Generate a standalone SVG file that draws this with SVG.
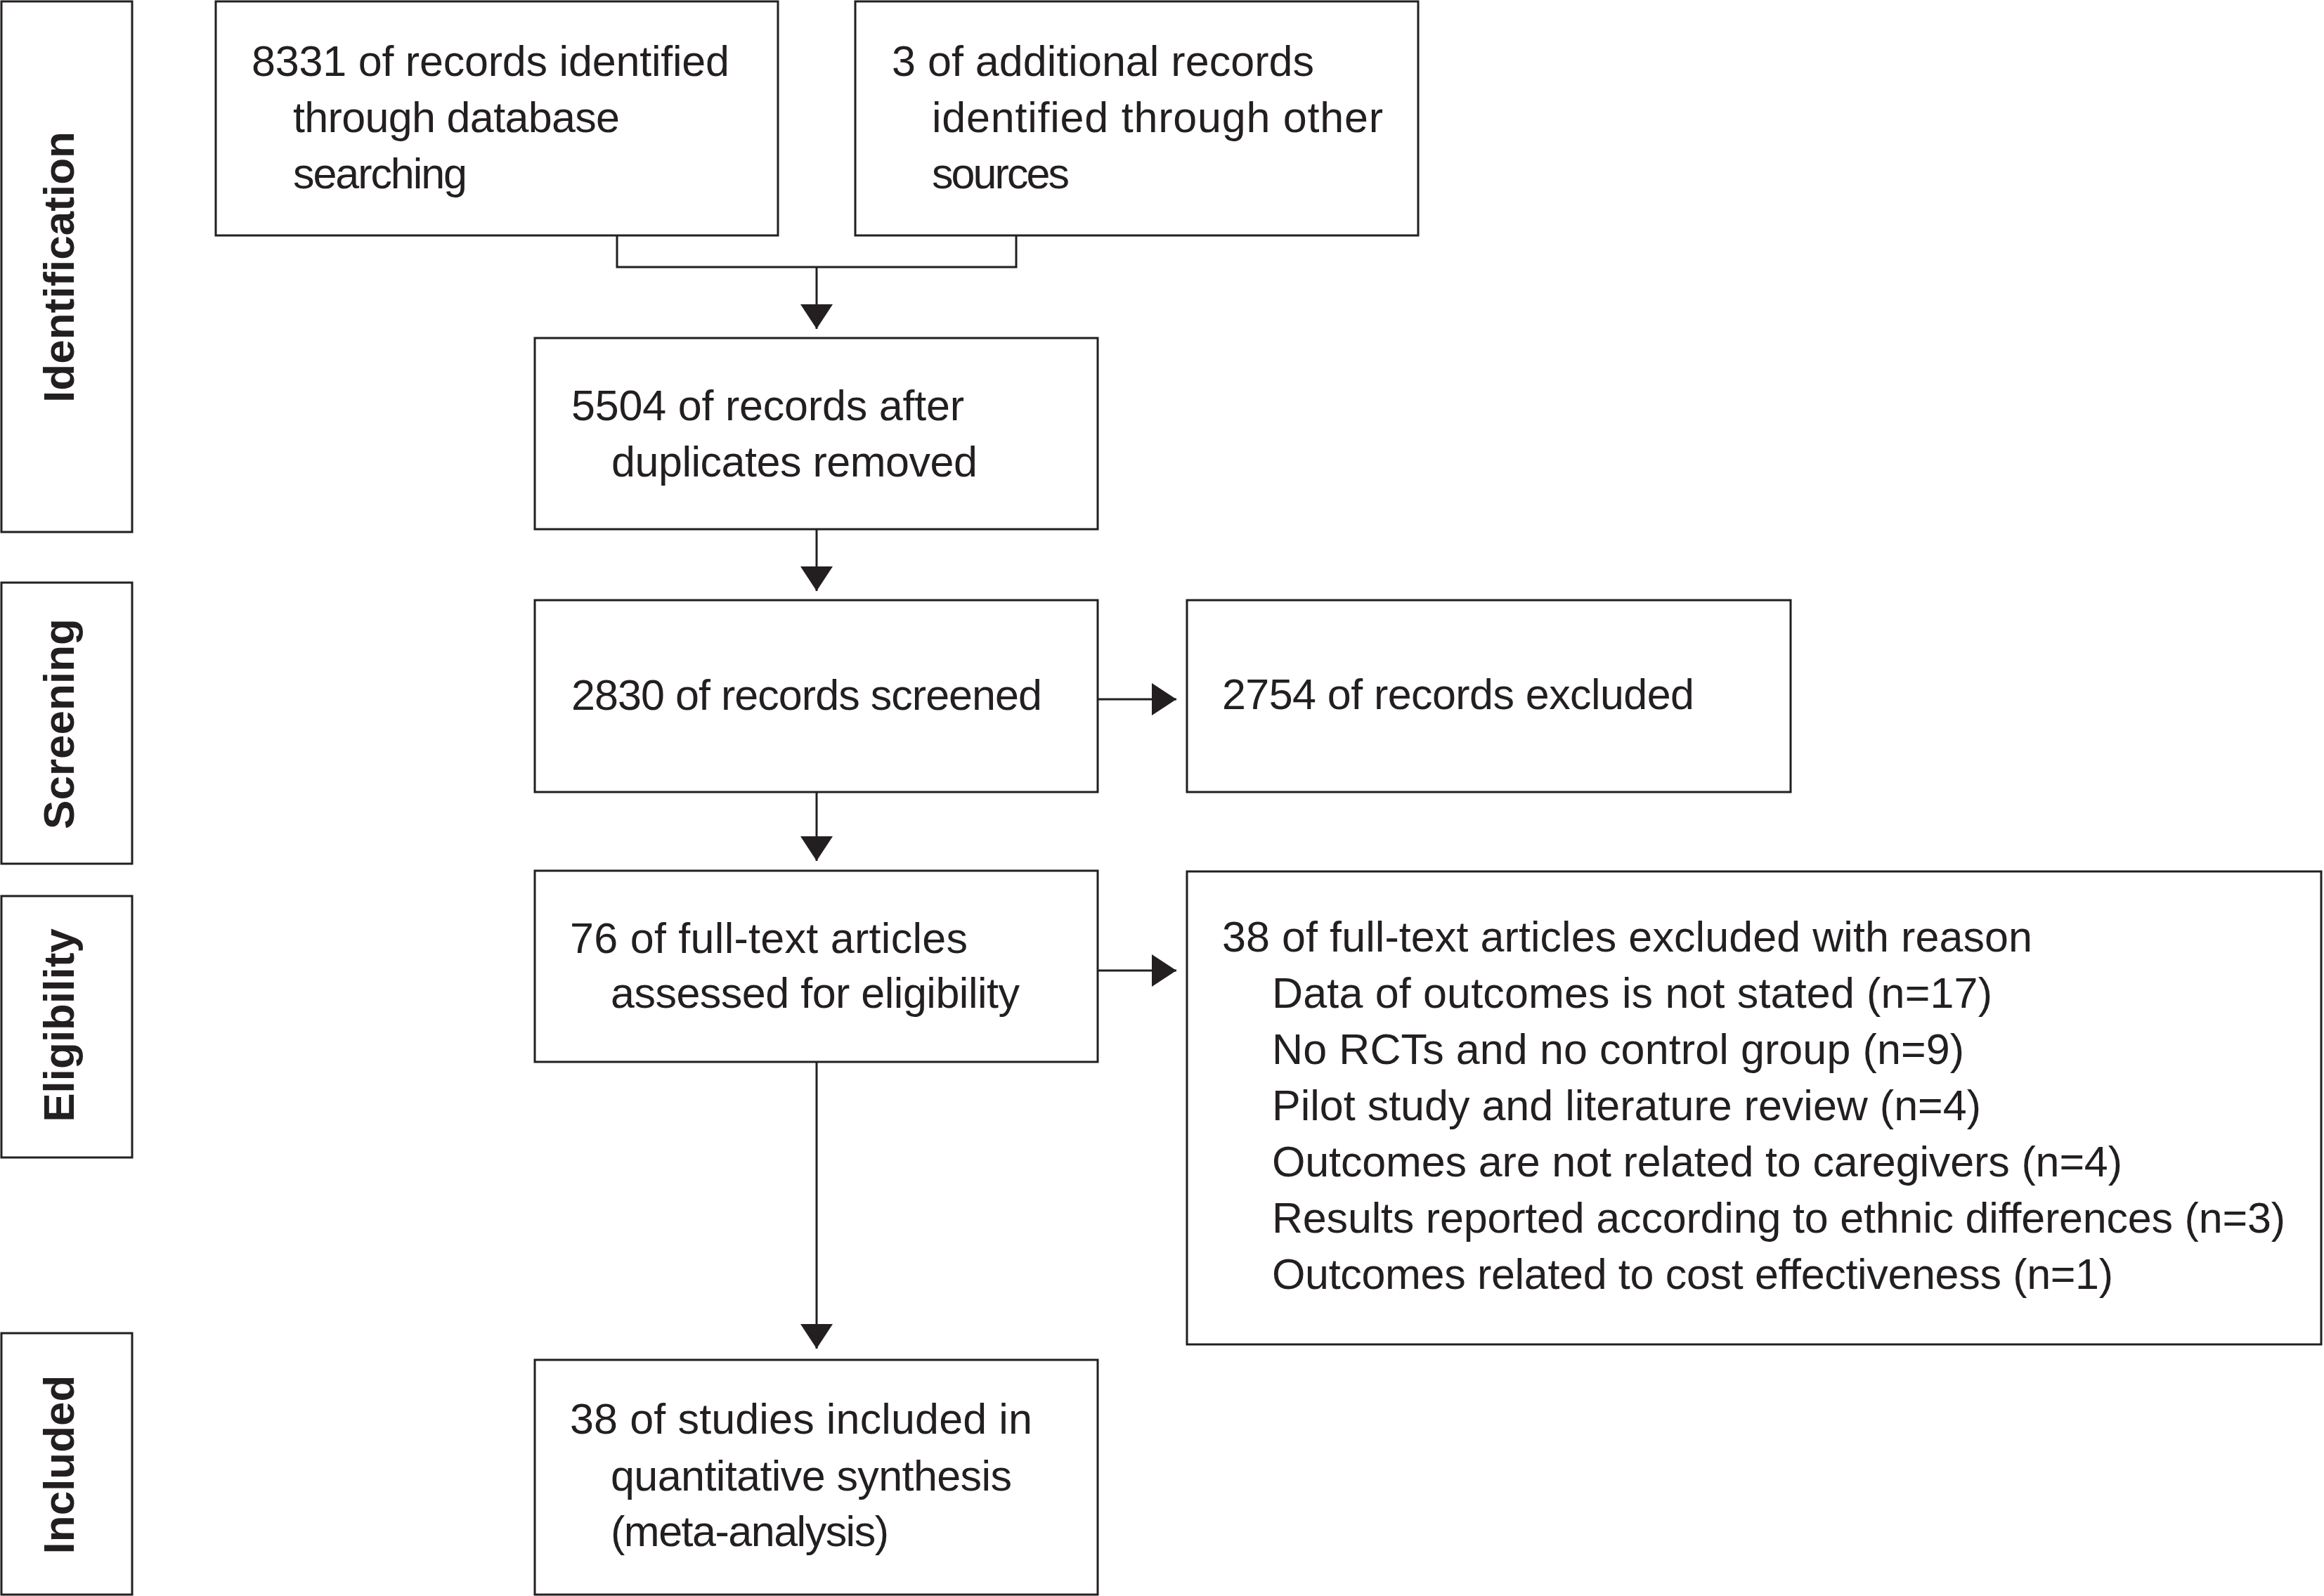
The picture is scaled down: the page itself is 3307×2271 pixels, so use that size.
<svg xmlns="http://www.w3.org/2000/svg" width="3307" height="2271" viewBox="0 0 3307 2271">
<style>
.box{fill:#fff;stroke:#231f20;stroke-width:3}
.t{font-family:"Liberation Sans",Arial,sans-serif;font-size:61px;fill:#231f20}
.lab{font-family:"Liberation Sans",Arial,sans-serif;font-size:62px;font-weight:bold;fill:#231f20;text-anchor:middle}
.ln{fill:none;stroke:#231f20;stroke-width:3}
</style>
<defs>
<marker id="ah" markerUnits="userSpaceOnUse" markerWidth="36" markerHeight="46" refX="35" refY="23" orient="auto">
<path d="M0,0 L35,23 L0,46 Z" fill="#231f20"/>
</marker>
</defs>
<rect width="3307" height="2271" fill="#fff"/>
<g id="stage-identification">
<rect class="box" x="2" y="2" width="186" height="755"/>
<text class="lab" transform="translate(105,380) rotate(-90)">Identification</text>
</g>
<g id="stage-screening">
<rect class="box" x="2" y="829" width="186" height="400"/>
<text class="lab" transform="translate(105,1030) rotate(-90)">Screening</text>
</g>
<g id="stage-eligibility">
<rect class="box" x="2" y="1275" width="186" height="372"/>
<text class="lab" transform="translate(105,1459) rotate(-90)">Eligibility</text>
</g>
<g id="stage-included">
<rect class="box" x="2" y="1897" width="186" height="372"/>
<text class="lab" transform="translate(105,2084) rotate(-90)">Included</text>
</g>
<g id="n-database">
<rect class="box" x="307" y="2" width="800" height="333"/>
<text class="t" x="358" y="108" textLength="680">8331 of records identified</text>
<text class="t" x="417" y="188" textLength="465">through database</text>
<text class="t" x="417" y="268" textLength="248">searching</text>
</g>
<g id="n-other">
<rect class="box" x="1217" y="2" width="801" height="333"/>
<text class="t" x="1269" y="108" textLength="601">3 of additional records</text>
<text class="t" x="1326" y="188" textLength="642">identified through other</text>
<text class="t" x="1326" y="268" textLength="196">sources</text>
</g>
<g id="n-dedup">
<rect class="box" x="761" y="481" width="801" height="272"/>
<text class="t" x="813" y="598" textLength="559">5504 of records after</text>
<text class="t" x="870" y="678" textLength="521">duplicates removed</text>
</g>
<g id="n-screened">
<rect class="box" x="761" y="854" width="801" height="273"/>
<text class="t" x="813" y="1010" textLength="670">2830 of records screened</text>
</g>
<g id="n-excluded">
<rect class="box" x="1689" y="854" width="859" height="273"/>
<text class="t" x="1739" y="1009" textLength="672">2754 of records excluded</text>
</g>
<g id="n-fulltext">
<rect class="box" x="761" y="1239" width="801" height="272"/>
<text class="t" x="811" y="1356" textLength="566">76 of full-text articles</text>
<text class="t" x="869" y="1434" textLength="582">assessed for eligibility</text>
</g>
<g id="n-fulltext-excluded">
<rect class="box" x="1689" y="1240" width="1614" height="673"/>
<text class="t" x="1739" y="1354" textLength="1153">38 of full-text articles excluded with reason</text>
<text class="t" x="1810" y="1434" textLength="1025">Data of outcomes is not stated (n=17)</text>
<text class="t" x="1810" y="1514" textLength="985">No RCTs and no control group (n=9)</text>
<text class="t" x="1810" y="1594" textLength="1009">Pilot study and literature review (n=4)</text>
<text class="t" x="1810" y="1674" textLength="1210">Outcomes are not related to caregivers (n=4)</text>
<text class="t" x="1810" y="1754" textLength="1442">Results reported according to ethnic differences (n=3)</text>
<text class="t" x="1810" y="1834" textLength="1197">Outcomes related to cost effectiveness (n=1)</text>
</g>
<g id="n-included">
<rect class="box" x="761" y="1935" width="801" height="334"/>
<text class="t" x="811" y="2040" textLength="658">38 of studies included in</text>
<text class="t" x="869" y="2121" textLength="571">quantitative synthesis</text>
<text class="t" x="869" y="2200" textLength="396">(meta-analysis)</text>
</g>
<g id="connectors">
<polyline class="ln" points="878,335 878,380 1446,380 1446,335"/>
<line class="ln" x1="1162" y1="380" x2="1162" y2="468" marker-end="url(#ah)"/>
<line class="ln" x1="1162" y1="753" x2="1162" y2="841" marker-end="url(#ah)"/>
<line class="ln" x1="1562" y1="995" x2="1674" y2="995" marker-end="url(#ah)"/>
<line class="ln" x1="1162" y1="1127" x2="1162" y2="1225" marker-end="url(#ah)"/>
<line class="ln" x1="1562" y1="1381" x2="1674" y2="1381" marker-end="url(#ah)"/>
<line class="ln" x1="1162" y1="1511" x2="1162" y2="1919" marker-end="url(#ah)"/>
</g>
</svg>
